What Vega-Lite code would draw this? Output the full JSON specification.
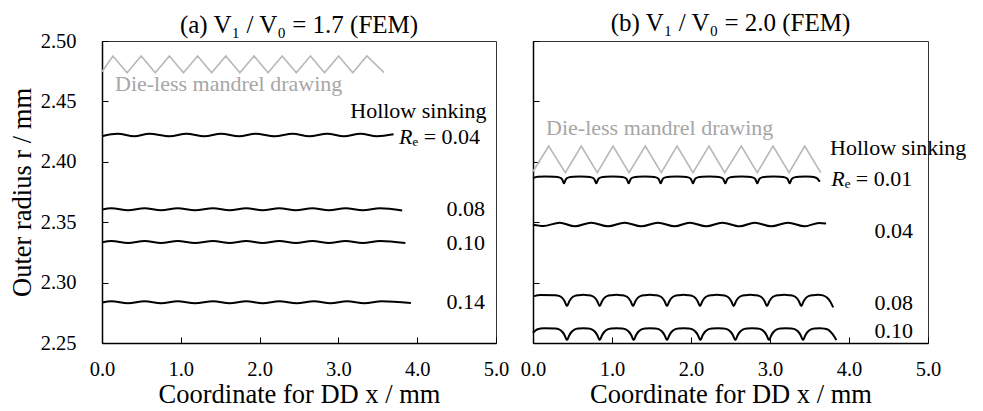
{
  "$schema": "https://vega.github.io/schema/vega-lite/v6.json",
  "padding": {"left": 8, "top": 10, "right": 0, "bottom": 0},
  "background": "white",
  "bounds": "flush",
  "spacing": 37,
  "config": {
    "font": "Liberation Serif",
    "view": {"stroke": "#333333", "strokeWidth": 1},
    "title": {"font": "Liberation Serif", "fontSize": 25, "fontWeight": "normal", "color": "#000000"},
    "axis": {
      "grid": false,
      "domainColor": "#000000",
      "domainWidth": 1.5,
      "tickColor": "#000000",
      "tickWidth": 1,
      "tickSize": -6,
      "labelFont": "Liberation Serif",
      "labelFontSize": 20.5,
      "labelColor": "#000000",
      "titleFont": "Liberation Serif",
      "titleFontSize": 26.5,
      "titleFontWeight": "normal",
      "titleColor": "#000000",
      "labelFlush": false
    },
    "text": {"font": "Liberation Serif", "fontSize": 22, "baseline": "middle"}
  },
  "datasets": {
    "lines_a": [
      {"s": "DMD", "k": "dmd", "x": 0, "y": 2.4745},
      {"s": "DMD", "k": "dmd", "x": 0.139, "y": 2.4876},
      {"s": "DMD", "k": "dmd", "x": 0.318, "y": 2.4738},
      {"s": "DMD", "k": "dmd", "x": 0.497, "y": 2.4876},
      {"s": "DMD", "k": "dmd", "x": 0.676, "y": 2.4738},
      {"s": "DMD", "k": "dmd", "x": 0.855, "y": 2.4876},
      {"s": "DMD", "k": "dmd", "x": 1.034, "y": 2.4738},
      {"s": "DMD", "k": "dmd", "x": 1.213, "y": 2.4876},
      {"s": "DMD", "k": "dmd", "x": 1.392, "y": 2.4738},
      {"s": "DMD", "k": "dmd", "x": 1.571, "y": 2.4876},
      {"s": "DMD", "k": "dmd", "x": 1.75, "y": 2.4738},
      {"s": "DMD", "k": "dmd", "x": 1.929, "y": 2.4876},
      {"s": "DMD", "k": "dmd", "x": 2.108, "y": 2.4738},
      {"s": "DMD", "k": "dmd", "x": 2.287, "y": 2.4876},
      {"s": "DMD", "k": "dmd", "x": 2.466, "y": 2.4738},
      {"s": "DMD", "k": "dmd", "x": 2.645, "y": 2.4876},
      {"s": "DMD", "k": "dmd", "x": 2.824, "y": 2.4738},
      {"s": "DMD", "k": "dmd", "x": 3.003, "y": 2.4876},
      {"s": "DMD", "k": "dmd", "x": 3.182, "y": 2.4738},
      {"s": "DMD", "k": "dmd", "x": 3.361, "y": 2.4876},
      {"s": "DMD", "k": "dmd", "x": 3.58, "y": 2.4738},

      {"s": "a04", "k": "hs", "x": 0, "y": 2.4212},
      {"s": "a04", "k": "hs", "x": 0.2, "y": 2.4232},
      {"s": "a04", "k": "hs", "x": 0.41, "y": 2.4212},
      {"s": "a04", "k": "hs", "x": 0.6, "y": 2.4232},
      {"s": "a04", "k": "hs", "x": 0.86, "y": 2.4212},
      {"s": "a04", "k": "hs", "x": 1.07, "y": 2.4232},
      {"s": "a04", "k": "hs", "x": 1.3, "y": 2.4212},
      {"s": "a04", "k": "hs", "x": 1.51, "y": 2.4232},
      {"s": "a04", "k": "hs", "x": 1.74, "y": 2.4212},
      {"s": "a04", "k": "hs", "x": 1.95, "y": 2.4232},
      {"s": "a04", "k": "hs", "x": 2.19, "y": 2.4212},
      {"s": "a04", "k": "hs", "x": 2.42, "y": 2.4232},
      {"s": "a04", "k": "hs", "x": 2.63, "y": 2.4212},
      {"s": "a04", "k": "hs", "x": 2.86, "y": 2.4232},
      {"s": "a04", "k": "hs", "x": 3.07, "y": 2.4212},
      {"s": "a04", "k": "hs", "x": 3.28, "y": 2.4232},
      {"s": "a04", "k": "hs", "x": 3.49, "y": 2.4212},
      {"s": "a04", "k": "hs", "x": 3.7, "y": 2.4228},

      {"s": "a08", "k": "hs", "x": 0, "y": 2.3604},
      {"s": "a08", "k": "hs", "x": 0.12, "y": 2.3616},
      {"s": "a08", "k": "hs", "x": 0.33, "y": 2.3598},
      {"s": "a08", "k": "hs", "x": 0.54, "y": 2.3616},
      {"s": "a08", "k": "hs", "x": 0.75, "y": 2.3598},
      {"s": "a08", "k": "hs", "x": 0.96, "y": 2.3616},
      {"s": "a08", "k": "hs", "x": 1.18, "y": 2.3598},
      {"s": "a08", "k": "hs", "x": 1.41, "y": 2.3616},
      {"s": "a08", "k": "hs", "x": 1.62, "y": 2.3598},
      {"s": "a08", "k": "hs", "x": 1.83, "y": 2.3616},
      {"s": "a08", "k": "hs", "x": 2.04, "y": 2.3598},
      {"s": "a08", "k": "hs", "x": 2.25, "y": 2.3616},
      {"s": "a08", "k": "hs", "x": 2.46, "y": 2.3598},
      {"s": "a08", "k": "hs", "x": 2.67, "y": 2.3616},
      {"s": "a08", "k": "hs", "x": 2.88, "y": 2.3598},
      {"s": "a08", "k": "hs", "x": 3.09, "y": 2.3616},
      {"s": "a08", "k": "hs", "x": 3.31, "y": 2.3598},
      {"s": "a08", "k": "hs", "x": 3.53, "y": 2.3616},
      {"s": "a08", "k": "hs", "x": 3.81, "y": 2.3596},

      {"s": "a10", "k": "hs", "x": 0, "y": 2.3333},
      {"s": "a10", "k": "hs", "x": 0.12, "y": 2.3345},
      {"s": "a10", "k": "hs", "x": 0.33, "y": 2.3327},
      {"s": "a10", "k": "hs", "x": 0.54, "y": 2.3345},
      {"s": "a10", "k": "hs", "x": 0.75, "y": 2.3327},
      {"s": "a10", "k": "hs", "x": 0.96, "y": 2.3345},
      {"s": "a10", "k": "hs", "x": 1.18, "y": 2.3327},
      {"s": "a10", "k": "hs", "x": 1.41, "y": 2.3345},
      {"s": "a10", "k": "hs", "x": 1.62, "y": 2.3327},
      {"s": "a10", "k": "hs", "x": 1.83, "y": 2.3345},
      {"s": "a10", "k": "hs", "x": 2.04, "y": 2.3327},
      {"s": "a10", "k": "hs", "x": 2.25, "y": 2.3345},
      {"s": "a10", "k": "hs", "x": 2.46, "y": 2.3327},
      {"s": "a10", "k": "hs", "x": 2.67, "y": 2.3345},
      {"s": "a10", "k": "hs", "x": 2.88, "y": 2.3327},
      {"s": "a10", "k": "hs", "x": 3.09, "y": 2.3345},
      {"s": "a10", "k": "hs", "x": 3.31, "y": 2.3327},
      {"s": "a10", "k": "hs", "x": 3.53, "y": 2.3345},
      {"s": "a10", "k": "hs", "x": 3.85, "y": 2.3328},

      {"s": "a14", "k": "hs", "x": 0, "y": 2.2836},
      {"s": "a14", "k": "hs", "x": 0.12, "y": 2.2846},
      {"s": "a14", "k": "hs", "x": 0.33, "y": 2.283},
      {"s": "a14", "k": "hs", "x": 0.54, "y": 2.2846},
      {"s": "a14", "k": "hs", "x": 0.75, "y": 2.283},
      {"s": "a14", "k": "hs", "x": 0.96, "y": 2.2846},
      {"s": "a14", "k": "hs", "x": 1.18, "y": 2.283},
      {"s": "a14", "k": "hs", "x": 1.41, "y": 2.2846},
      {"s": "a14", "k": "hs", "x": 1.62, "y": 2.283},
      {"s": "a14", "k": "hs", "x": 1.83, "y": 2.2846},
      {"s": "a14", "k": "hs", "x": 2.04, "y": 2.283},
      {"s": "a14", "k": "hs", "x": 2.25, "y": 2.2846},
      {"s": "a14", "k": "hs", "x": 2.47, "y": 2.283},
      {"s": "a14", "k": "hs", "x": 2.69, "y": 2.2846},
      {"s": "a14", "k": "hs", "x": 2.9, "y": 2.283},
      {"s": "a14", "k": "hs", "x": 3.11, "y": 2.2846},
      {"s": "a14", "k": "hs", "x": 3.33, "y": 2.283},
      {"s": "a14", "k": "hs", "x": 3.55, "y": 2.2846},
      {"s": "a14", "k": "hs", "x": 3.92, "y": 2.2831}
    ],
    "lines_b": [
      {"s": "DMD", "k": "dmd", "x": 0, "y": 2.392},
      {"s": "DMD", "k": "dmd", "x": 0.199, "y": 2.4131},
      {"s": "DMD", "k": "dmd", "x": 0.409, "y": 2.391},
      {"s": "DMD", "k": "dmd", "x": 0.611, "y": 2.4131},
      {"s": "DMD", "k": "dmd", "x": 0.814, "y": 2.391},
      {"s": "DMD", "k": "dmd", "x": 1.013, "y": 2.4131},
      {"s": "DMD", "k": "dmd", "x": 1.215, "y": 2.391},
      {"s": "DMD", "k": "dmd", "x": 1.422, "y": 2.4131},
      {"s": "DMD", "k": "dmd", "x": 1.624, "y": 2.391},
      {"s": "DMD", "k": "dmd", "x": 1.823, "y": 2.4131},
      {"s": "DMD", "k": "dmd", "x": 2.025, "y": 2.391},
      {"s": "DMD", "k": "dmd", "x": 2.228, "y": 2.4131},
      {"s": "DMD", "k": "dmd", "x": 2.426, "y": 2.391},
      {"s": "DMD", "k": "dmd", "x": 2.637, "y": 2.4131},
      {"s": "DMD", "k": "dmd", "x": 2.839, "y": 2.391},
      {"s": "DMD", "k": "dmd", "x": 3.038, "y": 2.4131},
      {"s": "DMD", "k": "dmd", "x": 3.241, "y": 2.391},
      {"s": "DMD", "k": "dmd", "x": 3.439, "y": 2.4131},
      {"s": "DMD", "k": "dmd", "x": 3.642, "y": 2.391},

      {"s": "b01", "k": "hs", "x": 0, "y": 2.3866},
      {"s": "b01", "k": "hs", "x": 0.06, "y": 2.3876},
      {"s": "b01", "k": "hs", "x": 0.16, "y": 2.3879},
      {"s": "b01", "k": "hs", "x": 0.272, "y": 2.3877},
      {"s": "b01", "k": "hs", "x": 0.332, "y": 2.3871},
      {"s": "b01", "k": "hs", "x": 0.367, "y": 2.3856},
      {"s": "b01", "k": "hs", "x": 0.392, "y": 2.3822},
      {"s": "b01", "k": "hs", "x": 0.417, "y": 2.3856},
      {"s": "b01", "k": "hs", "x": 0.452, "y": 2.3871},
      {"s": "b01", "k": "hs", "x": 0.512, "y": 2.3877},
      {"s": "b01", "k": "hs", "x": 0.597, "y": 2.3879},
      {"s": "b01", "k": "hs", "x": 0.681, "y": 2.3877},
      {"s": "b01", "k": "hs", "x": 0.741, "y": 2.3871},
      {"s": "b01", "k": "hs", "x": 0.776, "y": 2.3856},
      {"s": "b01", "k": "hs", "x": 0.801, "y": 2.3822},
      {"s": "b01", "k": "hs", "x": 0.826, "y": 2.3856},
      {"s": "b01", "k": "hs", "x": 0.861, "y": 2.3871},
      {"s": "b01", "k": "hs", "x": 0.921, "y": 2.3877},
      {"s": "b01", "k": "hs", "x": 1.006, "y": 2.3879},
      {"s": "b01", "k": "hs", "x": 1.091, "y": 2.3877},
      {"s": "b01", "k": "hs", "x": 1.151, "y": 2.3871},
      {"s": "b01", "k": "hs", "x": 1.186, "y": 2.3856},
      {"s": "b01", "k": "hs", "x": 1.211, "y": 2.3822},
      {"s": "b01", "k": "hs", "x": 1.236, "y": 2.3856},
      {"s": "b01", "k": "hs", "x": 1.271, "y": 2.3871},
      {"s": "b01", "k": "hs", "x": 1.331, "y": 2.3877},
      {"s": "b01", "k": "hs", "x": 1.414, "y": 2.3879},
      {"s": "b01", "k": "hs", "x": 1.496, "y": 2.3877},
      {"s": "b01", "k": "hs", "x": 1.556, "y": 2.3871},
      {"s": "b01", "k": "hs", "x": 1.591, "y": 2.3856},
      {"s": "b01", "k": "hs", "x": 1.616, "y": 2.3822},
      {"s": "b01", "k": "hs", "x": 1.641, "y": 2.3856},
      {"s": "b01", "k": "hs", "x": 1.676, "y": 2.3871},
      {"s": "b01", "k": "hs", "x": 1.736, "y": 2.3877},
      {"s": "b01", "k": "hs", "x": 1.82, "y": 2.3879},
      {"s": "b01", "k": "hs", "x": 1.905, "y": 2.3877},
      {"s": "b01", "k": "hs", "x": 1.965, "y": 2.3871},
      {"s": "b01", "k": "hs", "x": 2.0, "y": 2.3856},
      {"s": "b01", "k": "hs", "x": 2.025, "y": 2.3822},
      {"s": "b01", "k": "hs", "x": 2.05, "y": 2.3856},
      {"s": "b01", "k": "hs", "x": 2.085, "y": 2.3871},
      {"s": "b01", "k": "hs", "x": 2.145, "y": 2.3877},
      {"s": "b01", "k": "hs", "x": 2.23, "y": 2.3879},
      {"s": "b01", "k": "hs", "x": 2.314, "y": 2.3877},
      {"s": "b01", "k": "hs", "x": 2.374, "y": 2.3871},
      {"s": "b01", "k": "hs", "x": 2.409, "y": 2.3856},
      {"s": "b01", "k": "hs", "x": 2.434, "y": 2.3822},
      {"s": "b01", "k": "hs", "x": 2.459, "y": 2.3856},
      {"s": "b01", "k": "hs", "x": 2.494, "y": 2.3871},
      {"s": "b01", "k": "hs", "x": 2.554, "y": 2.3877},
      {"s": "b01", "k": "hs", "x": 2.637, "y": 2.3879},
      {"s": "b01", "k": "hs", "x": 2.719, "y": 2.3877},
      {"s": "b01", "k": "hs", "x": 2.779, "y": 2.3871},
      {"s": "b01", "k": "hs", "x": 2.814, "y": 2.3856},
      {"s": "b01", "k": "hs", "x": 2.839, "y": 2.3822},
      {"s": "b01", "k": "hs", "x": 2.864, "y": 2.3856},
      {"s": "b01", "k": "hs", "x": 2.899, "y": 2.3871},
      {"s": "b01", "k": "hs", "x": 2.959, "y": 2.3877},
      {"s": "b01", "k": "hs", "x": 3.044, "y": 2.3879},
      {"s": "b01", "k": "hs", "x": 3.129, "y": 2.3877},
      {"s": "b01", "k": "hs", "x": 3.189, "y": 2.3871},
      {"s": "b01", "k": "hs", "x": 3.224, "y": 2.3856},
      {"s": "b01", "k": "hs", "x": 3.249, "y": 2.3822},
      {"s": "b01", "k": "hs", "x": 3.274, "y": 2.3856},
      {"s": "b01", "k": "hs", "x": 3.309, "y": 2.3871},
      {"s": "b01", "k": "hs", "x": 3.369, "y": 2.3877},
      {"s": "b01", "k": "hs", "x": 3.45, "y": 2.3879},
      {"s": "b01", "k": "hs", "x": 3.53, "y": 2.3876},
      {"s": "b01", "k": "hs", "x": 3.59, "y": 2.3866},
      {"s": "b01", "k": "hs", "x": 3.63, "y": 2.3835},

      {"s": "b04", "k": "hs", "x": 0, "y": 2.348},
      {"s": "b04", "k": "hs", "x": 0.13, "y": 2.3468},
      {"s": "b04", "k": "hs", "x": 0.338, "y": 2.3496},
      {"s": "b04", "k": "hs", "x": 0.528, "y": 2.3466},
      {"s": "b04", "k": "hs", "x": 0.738, "y": 2.3496},
      {"s": "b04", "k": "hs", "x": 0.949, "y": 2.3466},
      {"s": "b04", "k": "hs", "x": 1.16, "y": 2.3496},
      {"s": "b04", "k": "hs", "x": 1.371, "y": 2.3466},
      {"s": "b04", "k": "hs", "x": 1.582, "y": 2.3496},
      {"s": "b04", "k": "hs", "x": 1.794, "y": 2.3466},
      {"s": "b04", "k": "hs", "x": 1.983, "y": 2.3496},
      {"s": "b04", "k": "hs", "x": 2.194, "y": 2.3466},
      {"s": "b04", "k": "hs", "x": 2.396, "y": 2.3496},
      {"s": "b04", "k": "hs", "x": 2.616, "y": 2.3466},
      {"s": "b04", "k": "hs", "x": 2.806, "y": 2.3496},
      {"s": "b04", "k": "hs", "x": 3.016, "y": 2.3466},
      {"s": "b04", "k": "hs", "x": 3.228, "y": 2.3496},
      {"s": "b04", "k": "hs", "x": 3.439, "y": 2.3466},
      {"s": "b04", "k": "hs", "x": 3.62, "y": 2.3494},
      {"s": "b04", "k": "hs", "x": 3.71, "y": 2.3489},

      {"s": "b08", "k": "hs", "x": 0, "y": 2.2886},
      {"s": "b08", "k": "hs", "x": 0.1, "y": 2.2898},
      {"s": "b08", "k": "hs", "x": 0.28, "y": 2.2896},
      {"s": "b08", "k": "hs", "x": 0.33, "y": 2.289},
      {"s": "b08", "k": "hs", "x": 0.37, "y": 2.2874},
      {"s": "b08", "k": "hs", "x": 0.4, "y": 2.2846},
      {"s": "b08", "k": "hs", "x": 0.43, "y": 2.2806},
      {"s": "b08", "k": "hs", "x": 0.46, "y": 2.2846},
      {"s": "b08", "k": "hs", "x": 0.49, "y": 2.2874},
      {"s": "b08", "k": "hs", "x": 0.53, "y": 2.289},
      {"s": "b08", "k": "hs", "x": 0.58, "y": 2.2896},
      {"s": "b08", "k": "hs", "x": 0.637, "y": 2.2899},
      {"s": "b08", "k": "hs", "x": 0.694, "y": 2.2896},
      {"s": "b08", "k": "hs", "x": 0.744, "y": 2.289},
      {"s": "b08", "k": "hs", "x": 0.784, "y": 2.2874},
      {"s": "b08", "k": "hs", "x": 0.814, "y": 2.2846},
      {"s": "b08", "k": "hs", "x": 0.844, "y": 2.2806},
      {"s": "b08", "k": "hs", "x": 0.874, "y": 2.2846},
      {"s": "b08", "k": "hs", "x": 0.904, "y": 2.2874},
      {"s": "b08", "k": "hs", "x": 0.944, "y": 2.289},
      {"s": "b08", "k": "hs", "x": 0.994, "y": 2.2896},
      {"s": "b08", "k": "hs", "x": 1.055, "y": 2.2899},
      {"s": "b08", "k": "hs", "x": 1.116, "y": 2.2896},
      {"s": "b08", "k": "hs", "x": 1.166, "y": 2.289},
      {"s": "b08", "k": "hs", "x": 1.206, "y": 2.2874},
      {"s": "b08", "k": "hs", "x": 1.236, "y": 2.2846},
      {"s": "b08", "k": "hs", "x": 1.266, "y": 2.2806},
      {"s": "b08", "k": "hs", "x": 1.296, "y": 2.2846},
      {"s": "b08", "k": "hs", "x": 1.326, "y": 2.2874},
      {"s": "b08", "k": "hs", "x": 1.366, "y": 2.289},
      {"s": "b08", "k": "hs", "x": 1.416, "y": 2.2896},
      {"s": "b08", "k": "hs", "x": 1.481, "y": 2.2899},
      {"s": "b08", "k": "hs", "x": 1.546, "y": 2.2896},
      {"s": "b08", "k": "hs", "x": 1.596, "y": 2.289},
      {"s": "b08", "k": "hs", "x": 1.636, "y": 2.2874},
      {"s": "b08", "k": "hs", "x": 1.666, "y": 2.2846},
      {"s": "b08", "k": "hs", "x": 1.696, "y": 2.2806},
      {"s": "b08", "k": "hs", "x": 1.726, "y": 2.2846},
      {"s": "b08", "k": "hs", "x": 1.756, "y": 2.2874},
      {"s": "b08", "k": "hs", "x": 1.796, "y": 2.289},
      {"s": "b08", "k": "hs", "x": 1.846, "y": 2.2896},
      {"s": "b08", "k": "hs", "x": 1.905, "y": 2.2899},
      {"s": "b08", "k": "hs", "x": 1.964, "y": 2.2896},
      {"s": "b08", "k": "hs", "x": 2.014, "y": 2.289},
      {"s": "b08", "k": "hs", "x": 2.054, "y": 2.2874},
      {"s": "b08", "k": "hs", "x": 2.084, "y": 2.2846},
      {"s": "b08", "k": "hs", "x": 2.114, "y": 2.2806},
      {"s": "b08", "k": "hs", "x": 2.144, "y": 2.2846},
      {"s": "b08", "k": "hs", "x": 2.174, "y": 2.2874},
      {"s": "b08", "k": "hs", "x": 2.214, "y": 2.289},
      {"s": "b08", "k": "hs", "x": 2.264, "y": 2.2896},
      {"s": "b08", "k": "hs", "x": 2.327, "y": 2.2899},
      {"s": "b08", "k": "hs", "x": 2.39, "y": 2.2896},
      {"s": "b08", "k": "hs", "x": 2.44, "y": 2.289},
      {"s": "b08", "k": "hs", "x": 2.48, "y": 2.2874},
      {"s": "b08", "k": "hs", "x": 2.51, "y": 2.2846},
      {"s": "b08", "k": "hs", "x": 2.54, "y": 2.2806},
      {"s": "b08", "k": "hs", "x": 2.57, "y": 2.2846},
      {"s": "b08", "k": "hs", "x": 2.6, "y": 2.2874},
      {"s": "b08", "k": "hs", "x": 2.64, "y": 2.289},
      {"s": "b08", "k": "hs", "x": 2.69, "y": 2.2896},
      {"s": "b08", "k": "hs", "x": 2.751, "y": 2.2899},
      {"s": "b08", "k": "hs", "x": 2.812, "y": 2.2896},
      {"s": "b08", "k": "hs", "x": 2.862, "y": 2.289},
      {"s": "b08", "k": "hs", "x": 2.902, "y": 2.2874},
      {"s": "b08", "k": "hs", "x": 2.932, "y": 2.2846},
      {"s": "b08", "k": "hs", "x": 2.962, "y": 2.2806},
      {"s": "b08", "k": "hs", "x": 2.992, "y": 2.2846},
      {"s": "b08", "k": "hs", "x": 3.022, "y": 2.2874},
      {"s": "b08", "k": "hs", "x": 3.062, "y": 2.289},
      {"s": "b08", "k": "hs", "x": 3.112, "y": 2.2896},
      {"s": "b08", "k": "hs", "x": 3.179, "y": 2.2899},
      {"s": "b08", "k": "hs", "x": 3.246, "y": 2.2896},
      {"s": "b08", "k": "hs", "x": 3.296, "y": 2.289},
      {"s": "b08", "k": "hs", "x": 3.336, "y": 2.2874},
      {"s": "b08", "k": "hs", "x": 3.366, "y": 2.2846},
      {"s": "b08", "k": "hs", "x": 3.396, "y": 2.2806},
      {"s": "b08", "k": "hs", "x": 3.426, "y": 2.2846},
      {"s": "b08", "k": "hs", "x": 3.456, "y": 2.2874},
      {"s": "b08", "k": "hs", "x": 3.496, "y": 2.289},
      {"s": "b08", "k": "hs", "x": 3.546, "y": 2.2896},
      {"s": "b08", "k": "hs", "x": 3.61, "y": 2.2899},
      {"s": "b08", "k": "hs", "x": 3.67, "y": 2.2894},
      {"s": "b08", "k": "hs", "x": 3.72, "y": 2.2876},
      {"s": "b08", "k": "hs", "x": 3.76, "y": 2.2846},
      {"s": "b08", "k": "hs", "x": 3.8, "y": 2.2795},

      {"s": "b10", "k": "hs", "x": 0, "y": 2.2585},
      {"s": "b10", "k": "hs", "x": 0.05, "y": 2.2612},
      {"s": "b10", "k": "hs", "x": 0.14, "y": 2.2622},
      {"s": "b10", "k": "hs", "x": 0.28, "y": 2.262},
      {"s": "b10", "k": "hs", "x": 0.33, "y": 2.2612},
      {"s": "b10", "k": "hs", "x": 0.37, "y": 2.2593},
      {"s": "b10", "k": "hs", "x": 0.4, "y": 2.2565},
      {"s": "b10", "k": "hs", "x": 0.43, "y": 2.2525},
      {"s": "b10", "k": "hs", "x": 0.46, "y": 2.2565},
      {"s": "b10", "k": "hs", "x": 0.49, "y": 2.2593},
      {"s": "b10", "k": "hs", "x": 0.53, "y": 2.2612},
      {"s": "b10", "k": "hs", "x": 0.58, "y": 2.262},
      {"s": "b10", "k": "hs", "x": 0.637, "y": 2.2623},
      {"s": "b10", "k": "hs", "x": 0.694, "y": 2.262},
      {"s": "b10", "k": "hs", "x": 0.744, "y": 2.2612},
      {"s": "b10", "k": "hs", "x": 0.784, "y": 2.2593},
      {"s": "b10", "k": "hs", "x": 0.814, "y": 2.2565},
      {"s": "b10", "k": "hs", "x": 0.844, "y": 2.2525},
      {"s": "b10", "k": "hs", "x": 0.874, "y": 2.2565},
      {"s": "b10", "k": "hs", "x": 0.904, "y": 2.2593},
      {"s": "b10", "k": "hs", "x": 0.944, "y": 2.2612},
      {"s": "b10", "k": "hs", "x": 0.994, "y": 2.262},
      {"s": "b10", "k": "hs", "x": 1.059, "y": 2.2623},
      {"s": "b10", "k": "hs", "x": 1.124, "y": 2.262},
      {"s": "b10", "k": "hs", "x": 1.174, "y": 2.2612},
      {"s": "b10", "k": "hs", "x": 1.214, "y": 2.2593},
      {"s": "b10", "k": "hs", "x": 1.244, "y": 2.2565},
      {"s": "b10", "k": "hs", "x": 1.274, "y": 2.2525},
      {"s": "b10", "k": "hs", "x": 1.304, "y": 2.2565},
      {"s": "b10", "k": "hs", "x": 1.334, "y": 2.2593},
      {"s": "b10", "k": "hs", "x": 1.374, "y": 2.2612},
      {"s": "b10", "k": "hs", "x": 1.424, "y": 2.262},
      {"s": "b10", "k": "hs", "x": 1.485, "y": 2.2623},
      {"s": "b10", "k": "hs", "x": 1.546, "y": 2.262},
      {"s": "b10", "k": "hs", "x": 1.596, "y": 2.2612},
      {"s": "b10", "k": "hs", "x": 1.636, "y": 2.2593},
      {"s": "b10", "k": "hs", "x": 1.666, "y": 2.2565},
      {"s": "b10", "k": "hs", "x": 1.696, "y": 2.2525},
      {"s": "b10", "k": "hs", "x": 1.726, "y": 2.2565},
      {"s": "b10", "k": "hs", "x": 1.756, "y": 2.2593},
      {"s": "b10", "k": "hs", "x": 1.796, "y": 2.2612},
      {"s": "b10", "k": "hs", "x": 1.846, "y": 2.262},
      {"s": "b10", "k": "hs", "x": 1.907, "y": 2.2623},
      {"s": "b10", "k": "hs", "x": 1.968, "y": 2.262},
      {"s": "b10", "k": "hs", "x": 2.018, "y": 2.2612},
      {"s": "b10", "k": "hs", "x": 2.058, "y": 2.2593},
      {"s": "b10", "k": "hs", "x": 2.088, "y": 2.2565},
      {"s": "b10", "k": "hs", "x": 2.118, "y": 2.2525},
      {"s": "b10", "k": "hs", "x": 2.148, "y": 2.2565},
      {"s": "b10", "k": "hs", "x": 2.178, "y": 2.2593},
      {"s": "b10", "k": "hs", "x": 2.218, "y": 2.2612},
      {"s": "b10", "k": "hs", "x": 2.268, "y": 2.262},
      {"s": "b10", "k": "hs", "x": 2.34, "y": 2.2623},
      {"s": "b10", "k": "hs", "x": 2.411, "y": 2.262},
      {"s": "b10", "k": "hs", "x": 2.461, "y": 2.2612},
      {"s": "b10", "k": "hs", "x": 2.501, "y": 2.2593},
      {"s": "b10", "k": "hs", "x": 2.531, "y": 2.2565},
      {"s": "b10", "k": "hs", "x": 2.561, "y": 2.2525},
      {"s": "b10", "k": "hs", "x": 2.591, "y": 2.2565},
      {"s": "b10", "k": "hs", "x": 2.621, "y": 2.2593},
      {"s": "b10", "k": "hs", "x": 2.661, "y": 2.2612},
      {"s": "b10", "k": "hs", "x": 2.711, "y": 2.262},
      {"s": "b10", "k": "hs", "x": 2.774, "y": 2.2623},
      {"s": "b10", "k": "hs", "x": 2.837, "y": 2.262},
      {"s": "b10", "k": "hs", "x": 2.887, "y": 2.2612},
      {"s": "b10", "k": "hs", "x": 2.927, "y": 2.2593},
      {"s": "b10", "k": "hs", "x": 2.957, "y": 2.2565},
      {"s": "b10", "k": "hs", "x": 2.987, "y": 2.2525},
      {"s": "b10", "k": "hs", "x": 3.017, "y": 2.2565},
      {"s": "b10", "k": "hs", "x": 3.047, "y": 2.2593},
      {"s": "b10", "k": "hs", "x": 3.087, "y": 2.2612},
      {"s": "b10", "k": "hs", "x": 3.137, "y": 2.262},
      {"s": "b10", "k": "hs", "x": 3.2, "y": 2.2623},
      {"s": "b10", "k": "hs", "x": 3.268, "y": 2.262},
      {"s": "b10", "k": "hs", "x": 3.318, "y": 2.2612},
      {"s": "b10", "k": "hs", "x": 3.358, "y": 2.2593},
      {"s": "b10", "k": "hs", "x": 3.388, "y": 2.2565},
      {"s": "b10", "k": "hs", "x": 3.418, "y": 2.2525},
      {"s": "b10", "k": "hs", "x": 3.448, "y": 2.2565},
      {"s": "b10", "k": "hs", "x": 3.478, "y": 2.2593},
      {"s": "b10", "k": "hs", "x": 3.518, "y": 2.2612},
      {"s": "b10", "k": "hs", "x": 3.568, "y": 2.262},
      {"s": "b10", "k": "hs", "x": 3.63, "y": 2.2623},
      {"s": "b10", "k": "hs", "x": 3.69, "y": 2.2619},
      {"s": "b10", "k": "hs", "x": 3.74, "y": 2.2608},
      {"s": "b10", "k": "hs", "x": 3.79, "y": 2.2575},
      {"s": "b10", "k": "hs", "x": 3.84, "y": 2.2525}
    ],
    "text_a": [
      {"t": "Die-less mandrel drawing", "g": "dmd", "a": "L", "x": 0.165, "y": 2.4644},
      {"t": "Hollow sinking", "g": "hs", "a": "R", "x": 4.88, "y": 2.442},
      {"t": "R", "g": "rit", "a": "L", "x": 3.77, "y": 2.4205},
      {"t": "ₑ = 0.04", "g": "rrest", "a": "L", "x": 3.77, "y": 2.4205},
      {"t": "0.08", "g": "hs", "a": "R", "x": 4.86, "y": 2.361},
      {"t": "0.10", "g": "hs", "a": "R", "x": 4.86, "y": 2.333},
      {"t": "0.14", "g": "hs", "a": "R", "x": 4.86, "y": 2.284}
    ],
    "text_b": [
      {"t": "Die-less mandrel drawing", "g": "dmd", "a": "L", "x": 0.165, "y": 2.428},
      {"t": "Hollow sinking", "g": "hs", "a": "L", "x": 3.76, "y": 2.4117},
      {"t": "R", "g": "rit", "a": "L", "x": 3.775, "y": 2.3858},
      {"t": "ₑ = 0.01", "g": "rrest", "a": "L", "x": 3.775, "y": 2.3858},
      {"t": "0.04", "g": "hs", "a": "R", "x": 4.81, "y": 2.3427},
      {"t": "0.08", "g": "hs", "a": "R", "x": 4.81, "y": 2.2834},
      {"t": "0.10", "g": "hs", "a": "R", "x": 4.81, "y": 2.2599}
    ]
  },
  "hconcat": [
    {
      "width": 394,
      "height": 302,
      "title": {"text": "(a) V₁ / V₀ = 1.7 (FEM)", "offset": -7},
      "encoding": {
        "x": {"field": "x", "type": "quantitative", "scale": {"domain": [0, 5], "nice": false},
              "axis": {"title": "Coordinate for DD x / mm", "values": [0, 1, 2, 3, 4, 5], "format": ".1f", "labelPadding": 22, "titlePadding": 2}},
        "y": {"field": "y", "type": "quantitative", "scale": {"domain": [2.25, 2.5], "nice": false, "zero": false},
              "axis": {"title": "Outer radius r / mm", "values": [2.25, 2.3, 2.35, 2.4, 2.45, 2.5], "format": ".2f", "labelPadding": 32, "titlePadding": 4}}
      },
      "layer": [
        {"data": {"name": "lines_a"}, "transform": [{"filter": "datum.k == 'dmd'"}],
         "mark": {"type": "line", "color": "#b8b8b8", "strokeWidth": 1.6}, "encoding": {"detail": {"field": "s"}}},
        {"data": {"name": "lines_a"}, "transform": [{"filter": "datum.k == 'hs'"}],
         "mark": {"type": "line", "color": "#000000", "strokeWidth": 2, "interpolate": "monotone"}, "encoding": {"detail": {"field": "s"}}},
        {"data": {"name": "text_a"}, "transform": [{"filter": "datum.g == 'dmd'"}],
         "mark": {"type": "text", "align": "left", "color": "#a6a6a6"}, "encoding": {"text": {"field": "t"}}},
        {"data": {"name": "text_a"}, "transform": [{"filter": "datum.g == 'hs' && datum.a == 'R'"}],
         "mark": {"type": "text", "align": "right", "color": "#000000"}, "encoding": {"text": {"field": "t"}}},
        {"data": {"name": "text_a"}, "transform": [{"filter": "datum.g == 'rit'"}],
         "mark": {"type": "text", "align": "left", "color": "#000000", "fontStyle": "italic"}, "encoding": {"text": {"field": "t"}}},
        {"data": {"name": "text_a"}, "transform": [{"filter": "datum.g == 'rrest'"}],
         "mark": {"type": "text", "align": "left", "color": "#000000", "dx": 13.5}, "encoding": {"text": {"field": "t"}}}
      ]
    },
    {
      "width": 395,
      "height": 302,
      "title": {"text": "(b) V₁ / V₀ = 2.0 (FEM)", "offset": 5},
      "encoding": {
        "x": {"field": "x", "type": "quantitative", "scale": {"domain": [0, 5], "nice": false},
              "axis": {"title": "Coordinate for DD x / mm", "values": [0, 1, 2, 3, 4, 5], "format": ".1f", "labelPadding": 22, "titlePadding": 2}},
        "y": {"field": "y", "type": "quantitative", "scale": {"domain": [2.25, 2.5], "nice": false, "zero": false},
              "axis": {"title": null, "labels": false, "values": [2.25, 2.3, 2.35, 2.4, 2.45, 2.5]}}
      },
      "layer": [
        {"data": {"name": "lines_b"}, "transform": [{"filter": "datum.k == 'dmd'"}],
         "mark": {"type": "line", "color": "#b8b8b8", "strokeWidth": 1.6}, "encoding": {"detail": {"field": "s"}}},
        {"data": {"name": "lines_b"}, "transform": [{"filter": "datum.k == 'hs'"}],
         "mark": {"type": "line", "color": "#000000", "strokeWidth": 2, "interpolate": "monotone"}, "encoding": {"detail": {"field": "s"}}},
        {"data": {"name": "text_b"}, "transform": [{"filter": "datum.g == 'dmd'"}],
         "mark": {"type": "text", "align": "left", "color": "#a6a6a6"}, "encoding": {"text": {"field": "t"}}},
        {"data": {"name": "text_b"}, "transform": [{"filter": "datum.g == 'hs' && datum.a == 'L'"}],
         "mark": {"type": "text", "align": "left", "color": "#000000"}, "encoding": {"text": {"field": "t"}}},
        {"data": {"name": "text_b"}, "transform": [{"filter": "datum.g == 'hs' && datum.a == 'R'"}],
         "mark": {"type": "text", "align": "right", "color": "#000000"}, "encoding": {"text": {"field": "t"}}},
        {"data": {"name": "text_b"}, "transform": [{"filter": "datum.g == 'rit'"}],
         "mark": {"type": "text", "align": "left", "color": "#000000", "fontStyle": "italic"}, "encoding": {"text": {"field": "t"}}},
        {"data": {"name": "text_b"}, "transform": [{"filter": "datum.g == 'rrest'"}],
         "mark": {"type": "text", "align": "left", "color": "#000000", "dx": 13.5}, "encoding": {"text": {"field": "t"}}}
      ]
    }
  ]
}
